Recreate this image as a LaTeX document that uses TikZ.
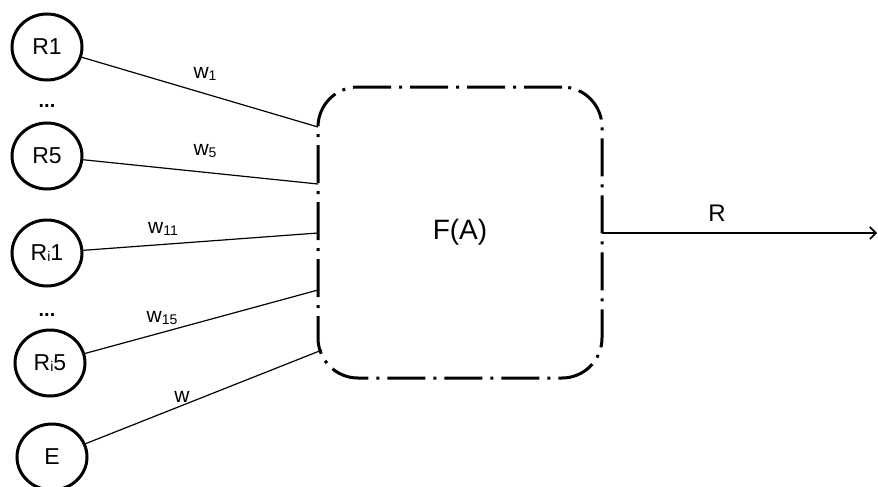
\documentclass[tikz,border=0pt]{standalone}
\usepackage{fontspec}
\setmainfont{Liberation Sans}
\usetikzlibrary{shapes.geometric,arrows.meta}
\newcommand{\smallsub}[1]{\raisebox{-1.5pt}{\fontsize{14}{16}\selectfont #1}}
\begin{document}
\begin{tikzpicture}[x=1pt,y=-1pt,
  inp/.style={draw,ellipse,line width=3pt,minimum width=70pt,minimum height=66pt,inner sep=0pt,font=\fontsize{23}{26}\selectfont},
  wlab/.style={font=\fontsize{21}{24}\selectfont,inner sep=0pt},
  conn/.style={line width=1.2pt},
  dotlab/.style={font=\fontsize{20}{22}\selectfont\bfseries,inner sep=0pt}]
\useasboundingbox (0,0) rectangle (878,487);
\node[inp] (r1) at (47,47) {R1};
\node[inp] (r5) at (47,156) {R5};
\node[inp] (ri1) at (47,253) {R\smallsub{i}1};
\node[inp] (ri5) at (50,363) {R\smallsub{i}5};
\node[inp] (e) at (52,457) {E};
\node[dotlab] (d1) at (47,106) {...};
\node[dotlab] (d2) at (47,315) {...};
\node[draw,rectangle,rounded corners=40pt,line width=3pt,
  dash pattern=on 38pt off 8pt on 3pt off 8pt,
  minimum width=284pt,minimum height=291pt,
  font=\fontsize{28}{32}\selectfont] (f) at (460,232.5) {F(A)};
\coordinate (c1) at (318,127);
\coordinate (c5) at (318,184);
\coordinate (c11) at (318,233);
\coordinate (c15) at (318,290);
\coordinate (ce) at (322,350);
\coordinate (out) at (602,233);
\coordinate (tip) at (877,233);
\draw[conn] (r1) -- (c1);
\draw[conn] (r5) -- (c5);
\draw[conn] (ri1) -- (c11);
\draw[conn] (ri5) -- (c15);
\draw[conn] (e) -- (ce);
\draw[conn,-{Straight Barb[length=6pt,width=12pt,line width=1.6pt]}] (out) -- (tip);
\node[wlab] (l1) at (205,74) {w\smallsub{1}};
\node[wlab] (l5) at (205,151) {w\smallsub{5}};
\node[wlab] (l11) at (163,229) {w\smallsub{11}};
\node[wlab] (l15) at (162,318) {w\smallsub{15}};
\node[wlab] (lw) at (182,397) {w};
\node[font=\fontsize{24}{28}\selectfont,inner sep=0pt] (lr) at (717,213) {R};
\end{tikzpicture}
\end{document}
